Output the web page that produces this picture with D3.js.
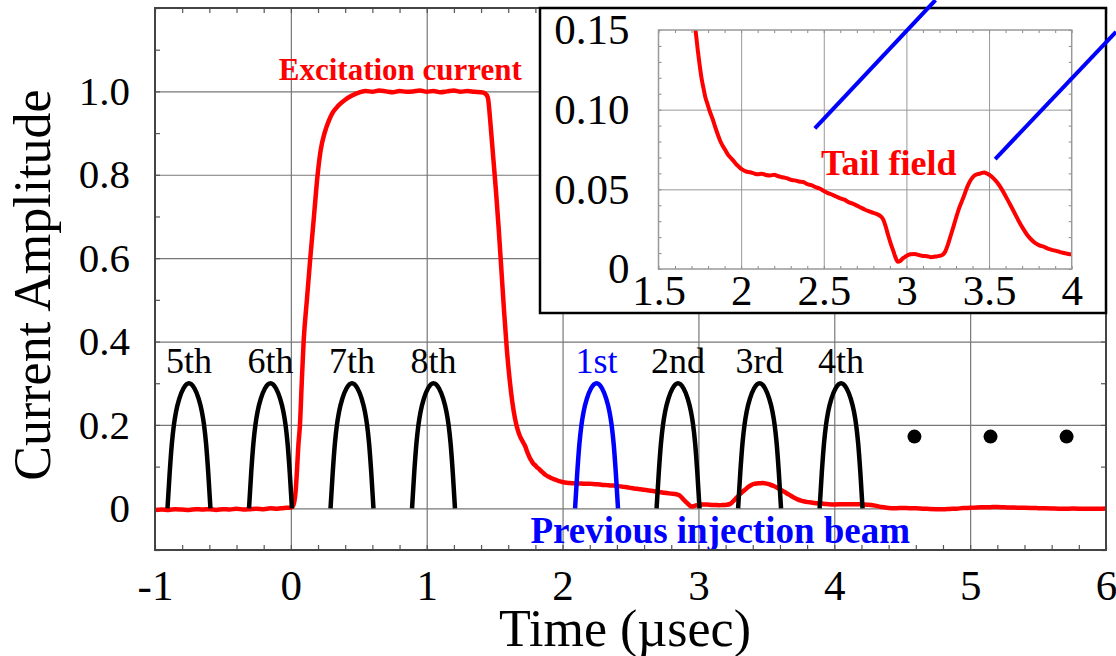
<!DOCTYPE html>
<html>
<head>
<meta charset="utf-8">
<script src="https://cdn.jsdelivr.net/npm/d3@7"></script>
<style>
  body { margin: 0; background: #fff; }
  svg { font-family: "Liberation Serif", "Times New Roman", serif; }
</style>
</head>
<body>
<div id="chart"></div>
<script>
// excitation current, [time (usec), amplitude]
var excitation = [
  [-1.00,-0.004],[-0.95,-0.003],[-0.90,-0.004],[-0.85,-0.002],[-0.80,-0.003],[-0.75,-0.004],
  [-0.70,-0.002],[-0.65,-0.003],[-0.60,-0.002],[-0.55,-0.004],[-0.50,-0.002],[-0.45,-0.003],
  [-0.40,-0.001],[-0.35,-0.003],[-0.30,-0.002],[-0.25,-0.001],[-0.20,-0.002],[-0.15,0.000],
  [-0.10,-0.001],[-0.05,0.001],[0.00,0.002],[0.012,0.004],[0.025,0.015],[0.035,0.04],
  [0.045,0.09],[0.055,0.15],[0.067,0.20],[0.08,0.30],[0.094,0.40],[0.118,0.50],[0.143,0.60],
  [0.17,0.70],[0.197,0.80],[0.22,0.86],[0.248,0.90],[0.28,0.93],[0.31,0.95],[0.35,0.966],
  [0.40,0.980],[0.45,0.990],[0.51,0.998],[0.55,1.001],[0.60,0.999],[0.65,1.002],[0.70,1.000],
  [0.75,0.998],[0.80,1.001],[0.85,0.999],[0.90,1.000],[0.95,1.002],[1.00,0.999],[1.05,1.001],
  [1.10,0.998],[1.15,1.000],[1.20,1.002],[1.25,0.999],[1.30,1.001],[1.35,0.999],[1.40,0.998],
  [1.43,0.995],[1.45,0.985],[1.47,0.92],[1.49,0.84],[1.51,0.76],[1.53,0.67],[1.55,0.57],
  [1.57,0.47],[1.59,0.38],[1.61,0.31],[1.63,0.255],[1.65,0.215],[1.67,0.188],[1.69,0.170],
  [1.71,0.158],[1.726,0.148],[1.738,0.137],[1.749,0.128],[1.76,0.120],[1.772,0.1135],
  [1.783,0.108],[1.795,0.104],[1.81,0.099],[1.828,0.094],[1.845,0.0885],[1.862,0.0835],
  [1.875,0.0800],[1.89,0.0770],[1.905,0.0745],[1.919,0.0720],[1.935,0.0700],[1.95,0.0683],
  [1.968,0.0660],[1.986,0.0642],[2.005,0.0625],[2.03,0.0612],[2.055,0.0607],[2.077,0.0600],
  [2.10,0.0594],[2.125,0.0598],[2.15,0.0590],[2.175,0.0587],[2.20,0.0591],[2.225,0.0582],
  [2.25,0.0576],[2.275,0.0570],[2.30,0.0560],[2.325,0.0556],[2.35,0.0549],[2.375,0.0546],
  [2.40,0.0532],[2.425,0.0526],[2.45,0.0514],[2.475,0.0505],[2.50,0.0490],[2.525,0.0476],
  [2.55,0.0467],[2.575,0.0455],[2.60,0.0443],[2.625,0.0435],[2.65,0.0420],[2.675,0.0410],
  [2.70,0.0398],[2.725,0.0385],[2.75,0.0372],[2.775,0.0362],[2.80,0.0352],[2.825,0.0343],
  [2.845,0.0330],[2.86,0.0310],[2.875,0.0265],[2.89,0.0210],[2.905,0.0160],[2.92,0.0115],
  [2.935,0.0070],[2.948,0.0045],[2.962,0.0050],[2.98,0.0068],[3.00,0.0082],[3.025,0.0092],
  [3.05,0.0094],[3.075,0.0088],[3.10,0.0082],[3.125,0.0080],[3.15,0.0074],[3.175,0.0078],
  [3.20,0.0082],[3.22,0.0090],[3.235,0.0110],[3.25,0.0150],[3.265,0.0200],[3.28,0.0250],
  [3.30,0.0320],[3.32,0.0385],[3.345,0.0450],[3.37,0.0520],[3.39,0.0560],[3.41,0.0585],
  [3.43,0.0595],[3.45,0.0600],[3.47,0.0606],[3.49,0.0598],[3.51,0.0585],[3.53,0.0565],
  [3.555,0.0535],[3.58,0.0495],[3.605,0.0448],[3.63,0.0400],[3.655,0.0350],[3.68,0.0300],
  [3.705,0.0255],[3.73,0.0215],[3.755,0.0185],[3.78,0.0162],[3.805,0.0148],[3.83,0.0140],
  [3.855,0.0128],[3.88,0.0120],[3.905,0.0114],[3.93,0.0106],[3.955,0.0100],[3.98,0.0094],
  [4.00,0.0092],[4.05,0.0095],[4.10,0.0100],[4.15,0.0097],[4.20,0.0094],[4.25,0.0088],
  [4.30,0.0065],[4.35,0.0030],[4.40,0.0008],[4.45,0.0000],[4.50,0.0010],[4.55,0.0002],
  [4.60,0.0000],[4.65,-0.0010],[4.70,-0.0015],[4.75,-0.0020],[4.80,-0.0022],[4.85,-0.0015],
  [4.90,-0.0008],[4.95,0.0005],[5.00,0.0012],[5.05,0.0020],[5.10,0.0025],[5.15,0.0028],
  [5.20,0.0030],[5.25,0.0024],[5.30,0.0020],[5.35,0.0015],[5.40,0.0012],[5.45,0.0008],
  [5.50,0.0004],[5.55,0.0000],[5.60,-0.0004],[5.65,-0.0008],[5.70,-0.0010],[5.75,-0.0006],
  [5.80,-0.0008],[5.85,-0.0012],[5.90,-0.0008],[5.95,-0.0010],[6.00,-0.0005]
];

// injection beam pulses
var pulseNames = ["5th", "6th", "7th", "8th", "1st", "2nd", "3rd", "4th"];
var pulseCenters = [-0.75, -0.15, 0.45, 1.05, 2.25, 2.85, 3.45, 4.05];
var pulseColors = ["black", "black", "black", "black", "blue", "black", "black", "black"];
// one pulse: [offset from centre, amplitude]
var pulseShape = [
  [-0.158,0],[-0.142,0.085],[-0.126,0.155],[-0.111,0.200],[-0.095,0.232],[-0.071,0.263],
  [-0.040,0.288],[0,0.300],[0.040,0.288],[0.071,0.263],[0.095,0.232],[0.111,0.200],
  [0.126,0.155],[0.142,0.085],[0.158,0]
];
var pulseLabelLevel = 0.325;

var dotTimes = [4.59, 5.15, 5.71];
var dotLevel = 0.172;

var xTicks = [-1, 0, 1, 2, 3, 4, 5, 6];
var xTickLabels = ["-1", "0", "1", "2", "3", "4", "5", "6"];
var yTicks = [0, 0.2, 0.4, 0.6, 0.8, 1.0];
var yTickLabels = ["0", "0.2", "0.4", "0.6", "0.8", "1.0"];

var insetXTicks = [1.5, 2, 2.5, 3, 3.5, 4];
var insetXTickLabels = ["1.5", "2", "2.5", "3", "3.5", "4"];
var insetYTicks = [0, 0.05, 0.10, 0.15];
var insetYTickLabels = ["0", "0.05", "0.10", "0.15"];

// blue pointer lines, in inset coordinates
var pointers = [
  [[2.446, 0.0883], [3.176, 0.1688]],
  [[3.537, 0.069], [4.268, 0.1489]]
];

var width = 1116,
  height = 656,
  margin = { top: 8, right: 10, bottom: 106, left: 155 },
  iw = width - margin.left - margin.right,
  ih = height - margin.top - margin.bottom;

var svg = d3
  .select("#chart")
  .append("svg")
  .attr("width", width)
  .attr("height", height);

var g = svg
  .append("g")
  .attr("transform", `translate(${margin.left},${margin.top})`);

var x = d3.scaleLinear().domain([-1, 6]).range([0, iw]);
var y = d3.scaleLinear().domain([-0.1, 1.2]).range([ih, 0]);

var xMinor = d3.range(36).map((i) => -1 + i * 0.2);
var yMinor = d3.range(14).map((i) => -0.1 + i * 0.1);

function clean(sel, color, w) {
  sel.select(".domain").remove();
  sel.selectAll("line").attr("stroke", color).attr("stroke-width", w);
}

// grid
g.append("g")
  .attr("transform", `translate(0,${ih})`)
  .call(d3.axisBottom(x).tickValues(xTicks.slice(1, -1)).tickSize(-ih).tickFormat(""))
  .call(clean, "#777", 1.2);
g.append("g")
  .call(d3.axisLeft(y).tickValues(yTicks).tickSize(-iw).tickFormat(""))
  .call(clean, "#777", 1.2);

// minor ticks, inward on all sides
g.append("g")
  .attr("transform", `translate(0,${ih})`)
  .call(d3.axisBottom(x).tickValues(xMinor).tickSize(-5).tickFormat(""))
  .call(clean, "#555", 1.2);
g.append("g")
  .call(d3.axisTop(x).tickValues(xMinor).tickSize(-5).tickFormat(""))
  .call(clean, "#555", 1.2);
g.append("g")
  .call(d3.axisLeft(y).tickValues(yMinor).tickSize(-5).tickFormat(""))
  .call(clean, "#555", 1.2);
g.append("g")
  .attr("transform", `translate(${iw},0)`)
  .call(d3.axisRight(y).tickValues(yMinor).tickSize(-5).tickFormat(""))
  .call(clean, "#555", 1.2);

// tick labels
var xAxis = g
  .append("g")
  .attr("transform", `translate(0,${ih})`)
  .call(d3.axisBottom(x).tickValues(xTicks).tickSize(0).tickFormat((d, i) => xTickLabels[i]));
xAxis.select(".domain").remove();
xAxis
  .attr("font-family", null)
  .attr("font-size", 43)
  .selectAll("text")
  .attr("y", 50)
  .attr("dy", 0)
  .attr("fill", "#000");

var yAxis = g
  .append("g")
  .call(d3.axisLeft(y).tickValues(yTicks).tickSize(0).tickPadding(25).tickFormat((d, i) => yTickLabels[i]));
yAxis.select(".domain").remove();
yAxis.attr("font-family", null).attr("font-size", 41).selectAll("text").attr("fill", "#000");

g.append("defs")
  .append("clipPath")
  .attr("id", "mainclip")
  .append("rect")
  .attr("width", iw)
  .attr("height", ih);

var line = d3
  .line()
  .x((d) => x(d[0]))
  .y((d) => y(d[1]))
  .curve(d3.curveMonotoneX);

/* excitation current */
g.append("path")
  .attr("clip-path", "url(#mainclip)")
  .attr("d", line(excitation))
  .attr("fill", "none")
  .attr("stroke", "#ff0000")
  .attr("stroke-width", 4.5)
  .attr("stroke-linejoin", "round");

/* beam pulses */
g.selectAll(".pulse")
  .data(pulseCenters)
  .join("path")
  .attr("class", "pulse")
  .attr("d", (c) => line(pulseShape.map((p) => [c + p[0], p[1]])))
  .attr("fill", "none")
  .attr("stroke", (d, i) => pulseColors[i])
  .attr("stroke-width", 4.5);

g.selectAll(".plabel")
  .data(pulseCenters)
  .join("text")
  .attr("class", "plabel")
  .attr("x", (c) => x(c))
  .attr("y", y(pulseLabelLevel))
  .attr("text-anchor", "middle")
  .attr("font-size", 36)
  .attr("fill", (d, i) => pulseColors[i])
  .text((d, i) => pulseNames[i]);

g.selectAll(".dot")
  .data(dotTimes)
  .join("circle")
  .attr("cx", (d) => x(d))
  .attr("cy", y(dotLevel))
  .attr("r", 7)
  .attr("fill", "#000");

g.append("text")
  .attr("x", x(0.806))
  .attr("y", y(1.028))
  .attr("text-anchor", "middle")
  .attr("font-size", 31)
  .attr("font-weight", "bold")
  .attr("fill", "#ff0000")
  .text("Excitation current");

g.append("text")
  .attr("x", x(3.161))
  .attr("y", y(-0.0833))
  .attr("text-anchor", "middle")
  .attr("font-size", 37)
  .attr("font-weight", "bold")
  .attr("fill", "#0000ff")
  .text("Previous injection beam");

// frame
g.append("rect")
  .attr("width", iw)
  .attr("height", ih)
  .attr("fill", "none")
  .attr("stroke", "#444")
  .attr("stroke-width", 2);

// axis titles
svg
  .append("text")
  .attr("x", 625)
  .attr("y", 646)
  .attr("text-anchor", "middle")
  .attr("font-size", 52)
  .text("Time (\u00b5sec)");

svg
  .append("text")
  .attr("transform", "translate(50,285) rotate(-90)")
  .attr("text-anchor", "middle")
  .attr("font-size", 52)
  .text("Current Amplitude");

/* inset */
var inset = { left: 385, top: 0, right: iw, bottom: 305 },
  ix = d3.scaleLinear().domain([1.5, 4]).range([503.5, 916.7]),
  iy = d3.scaleLinear().domain([0, 0.15]).range([261, 22]);

var ig = g.append("g");

ig.append("rect")
  .attr("x", inset.left)
  .attr("y", inset.top)
  .attr("width", inset.right - inset.left)
  .attr("height", inset.bottom - inset.top)
  .attr("fill", "#fff")
  .attr("stroke", "#000")
  .attr("stroke-width", 2.5);

var ixMinor = d3.range(26).map((i) => 1.5 + i * 0.1);
var iyMinor = d3.range(16).map((i) => i * 0.01);

ig.append("g")
  .attr("transform", `translate(0,${iy(0)})`)
  .call(d3.axisBottom(ix).tickValues([2, 2.5, 3, 3.5]).tickSize(iy(0.15) - iy(0)).tickFormat(""))
  .call(clean, "#999", 1);
ig.append("g")
  .attr("transform", `translate(${ix(1.5)},0)`)
  .call(d3.axisLeft(iy).tickValues([0.05, 0.1]).tickSize(ix(1.5) - ix(4)).tickFormat(""))
  .call(clean, "#999", 1);

ig.append("g")
  .attr("transform", `translate(0,${iy(0)})`)
  .call(d3.axisBottom(ix).tickValues(ixMinor).tickSize(-3).tickFormat(""))
  .call(clean, "#888", 1);
ig.append("g")
  .attr("transform", `translate(0,${iy(0.15)})`)
  .call(d3.axisTop(ix).tickValues(ixMinor).tickSize(-3).tickFormat(""))
  .call(clean, "#888", 1);
ig.append("g")
  .attr("transform", `translate(${ix(1.5)},0)`)
  .call(d3.axisLeft(iy).tickValues(iyMinor).tickSize(-3).tickFormat(""))
  .call(clean, "#888", 1);
ig.append("g")
  .attr("transform", `translate(${ix(4)},0)`)
  .call(d3.axisRight(iy).tickValues(iyMinor).tickSize(-3).tickFormat(""))
  .call(clean, "#888", 1);

var ixAxis = ig
  .append("g")
  .attr("transform", `translate(0,${iy(0)})`)
  .call(d3.axisBottom(ix).tickValues(insetXTicks).tickSize(0).tickFormat((d, i) => insetXTickLabels[i]));
ixAxis.select(".domain").remove();
ixAxis
  .attr("font-family", null)
  .attr("font-size", 43)
  .selectAll("text")
  .attr("y", 36)
  .attr("dy", 0)
  .attr("fill", "#000");

var iyAxis = ig
  .append("g")
  .attr("transform", `translate(${ix(1.5)},0)`)
  .call(d3.axisLeft(iy).tickValues(insetYTicks).tickSize(0).tickPadding(29).tickFormat((d, i) => insetYTickLabels[i]));
iyAxis.select(".domain").remove();
iyAxis.attr("font-family", null).attr("font-size", 43).selectAll("text").attr("fill", "#000");

ig.append("defs")
  .append("clipPath")
  .attr("id", "insetclip")
  .append("rect")
  .attr("x", ix(1.5))
  .attr("y", iy(0.15))
  .attr("width", ix(4) - ix(1.5))
  .attr("height", iy(0) - iy(0.15));

var iline = d3
  .line()
  .x((d) => ix(d[0]))
  .y((d) => iy(d[1]))
  .curve(d3.curveMonotoneX);

ig.append("path")
  .attr("clip-path", "url(#insetclip)")
  .attr("d", iline(excitation.filter((d) => d[0] >= 1.6 && d[0] <= 4)))
  .attr("fill", "none")
  .attr("stroke", "#ff0000")
  .attr("stroke-width", 4)
  .attr("stroke-linejoin", "round");

ig.append("rect")
  .attr("x", ix(1.5))
  .attr("y", iy(0.15))
  .attr("width", ix(4) - ix(1.5))
  .attr("height", iy(0) - iy(0.15))
  .attr("fill", "none")
  .attr("stroke", "#999")
  .attr("stroke-width", 1.5);

ig.append("text")
  .attr("x", ix(2.893))
  .attr("y", iy(0.059))
  .attr("text-anchor", "middle")
  .attr("font-size", 36)
  .attr("font-weight", "bold")
  .attr("fill", "#ff0000")
  .text("Tail field");

ig.selectAll(".pointer")
  .data(pointers)
  .join("line")
  .attr("class", "pointer")
  .attr("x1", (d) => ix(d[0][0]))
  .attr("y1", (d) => iy(d[0][1]))
  .attr("x2", (d) => ix(d[1][0]))
  .attr("y2", (d) => iy(d[1][1]))
  .attr("stroke", "#0000ff")
  .attr("stroke-width", 4);
</script>
</body>
</html>
